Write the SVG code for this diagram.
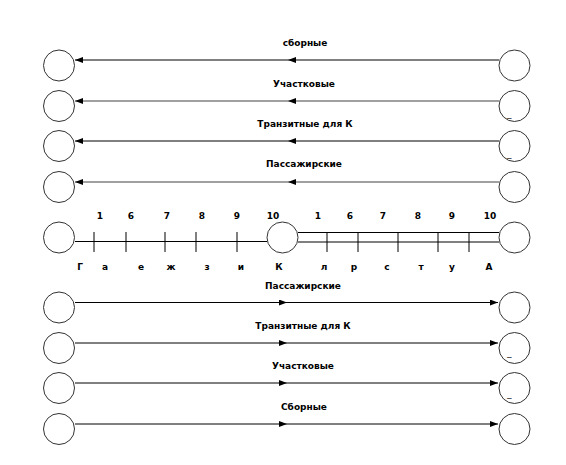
<svg xmlns="http://www.w3.org/2000/svg" width="566" height="465" viewBox="0 0 566 465">
<defs>
<marker id="ah" viewBox="0 0 8 6" refX="8" refY="3" markerWidth="8" markerHeight="6" markerUnits="userSpaceOnUse" orient="auto">
<path d="M0,0 L8,3 L0,6 z" fill="#000"/>
</marker>
</defs>
<style>
.n{fill:#fff;stroke:#333;stroke-width:1}
.l{fill:none;stroke:#000;stroke-width:1}
.g{fill:none;stroke:#808080;stroke-width:1.6}
.a{marker-mid:url(#ah);marker-end:url(#ah)}
.t{font-family:"DejaVu Sans",sans-serif;font-weight:bold;font-size:9px;fill:#000;text-anchor:middle}
.u{font-family:"DejaVu Sans",sans-serif;font-size:9px;fill:#000}
</style>
<rect width="566" height="465" fill="#fff"/>
<g id="connectors">
<path class="l a" d="M499,60 L288,60 L75,60"/>
<path class="g a" d="M499,101 L288,101 L75,101"/>
<path class="l a" d="M499,141 L288,141 L75,141"/>
<path class="g a" d="M499,182 L288,182 L75,182"/>
<path class="l" d="M75,241.5 L267,241.5"/>
<path class="l" d="M298,232.5 L499,232.5 M298,242 L499,242"/>
<path class="l" d="M94,232 V252 M126,232 V252 M165,232 V252 M196,232 V252 M237,232 V252 M327,232 V252 M358,232 V252 M398,232 V252 M438,232 V252 M469,232 V252"/>
<path class="l a" d="M75,302.5 L287,302.5 L498,302.5"/>
<path class="l a" d="M75,343 L287,343 L498,343"/>
<path class="l a" d="M75,383 L287,383 L498,383"/>
<path class="l a" d="M75,424 L287,424 L498,424"/>
</g>
<g id="nodes-left">
<circle class="n" cx="59" cy="65.5" r="15.5"/>
<circle class="n" cx="59" cy="106" r="15.5"/>
<circle class="n" cx="59" cy="146" r="15.5"/>
<circle class="n" cx="59" cy="187" r="15.5"/>
<circle class="n" cx="59" cy="237.5" r="15.5"/>
<circle class="n" cx="59" cy="307.5" r="15.5"/>
<circle class="n" cx="59" cy="348" r="15.5"/>
<circle class="n" cx="59" cy="388" r="15.5"/>
<circle class="n" cx="59" cy="429" r="15.5"/>
</g>
<g id="node-mid">
<circle class="n" cx="282.5" cy="237.5" r="15.5"/>
</g>
<g id="nodes-right">
<circle class="n" cx="514.5" cy="65.5" r="15.5"/>
<circle class="n" cx="514.5" cy="106" r="15.5"/>
<circle class="n" cx="514.5" cy="146" r="15.5"/>
<circle class="n" cx="514.5" cy="187" r="15.5"/>
<circle class="n" cx="514.5" cy="237.5" r="15.5"/>
<circle class="n" cx="514.5" cy="307.5" r="15.5"/>
<circle class="n" cx="514.5" cy="348" r="15.5"/>
<circle class="n" cx="514.5" cy="388" r="15.5"/>
<circle class="n" cx="514.5" cy="429" r="15.5"/>
<text class="u" x="507" y="117">_</text>
<text class="u" x="507" y="157">_</text>
<text class="u" x="507" y="356">_</text>
<text class="u" x="507" y="397">_</text>
</g>
<g id="labels">
<text class="t" x="305" y="46">сборные</text>
<text class="t" x="304" y="87">Участковые</text>
<text class="t" x="305" y="127">Транзитные для К</text>
<text class="t" x="304" y="167">Пассажирские</text>
<text class="t" x="303" y="289">Пассажирские</text>
<text class="t" x="303" y="329">Транзитные для К</text>
<text class="t" x="303" y="369">Участковые</text>
<text class="t" x="304" y="410">Сборные</text>
</g>
<g id="scale">
<text class="t" x="100" y="219">1</text>
<text class="t" x="131" y="219">6</text>
<text class="t" x="167" y="219">7</text>
<text class="t" x="202" y="219">8</text>
<text class="t" x="237" y="219">9</text>
<text class="t" x="273" y="219">10</text>
<text class="t" x="318" y="219">1</text>
<text class="t" x="350" y="219">6</text>
<text class="t" x="383" y="219">7</text>
<text class="t" x="418" y="219">8</text>
<text class="t" x="452" y="219">9</text>
<text class="t" x="490" y="219">10</text>
<text class="t" x="80" y="270">Г</text>
<text class="t" x="105" y="270">а</text>
<text class="t" x="141" y="270">е</text>
<text class="t" x="171" y="270">ж</text>
<text class="t" x="207" y="270">з</text>
<text class="t" x="241" y="270">и</text>
<text class="t" x="279" y="270">К</text>
<text class="t" x="324" y="270">л</text>
<text class="t" x="354" y="270">р</text>
<text class="t" x="387" y="270">с</text>
<text class="t" x="421" y="270">т</text>
<text class="t" x="452" y="270">у</text>
<text class="t" x="489" y="270">А</text>
</g>
</svg>
